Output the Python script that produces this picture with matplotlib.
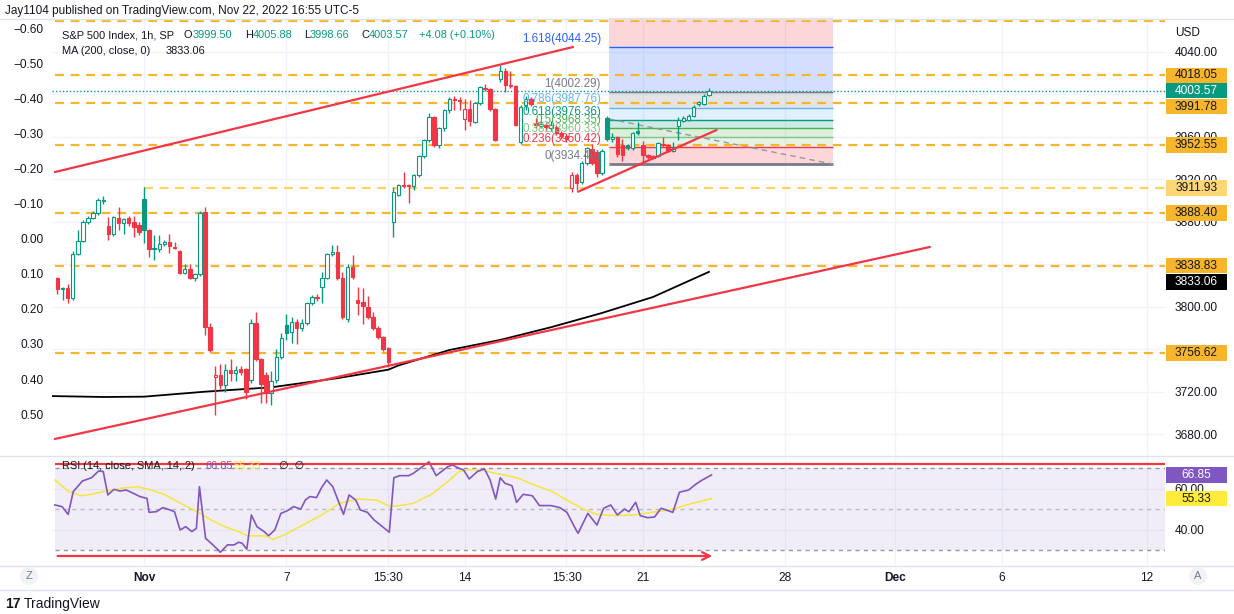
import numpy as np
import matplotlib
matplotlib.use('Agg')
import matplotlib.pyplot as plt
from matplotlib.patches import Rectangle, Ellipse
from matplotlib.lines import Line2D
from matplotlib.transforms import blended_transform_factory

plt.rcParams['font.family'] = ['Liberation Sans', 'DejaVu Sans']

GREEN = '#089981'
RED = '#f23645'
ORANGE = '#f7b52c'
TEXT = '#131722'
GRID = '#f0f3fa'
BORDER = '#e0e3eb'

# S&P 500, 1h bars. index 0 = first bar of Nov 1 2022
bar_start = -17
opens = [3827.5, 3816.7, 3818.0, 3808.0, 3850.0, 3862.4, 3880.0, 3884.0, 3888.0, 3899.5,
         3876.0, 3868.4, 3883.8, 3879.0, 3883.8, 3880.0, 3877.0,
         3901.6, 3872.5, 3854.3, 3855.0, 3859.3, 3861.0, 3856.7,
         3853.0, 3832.3, 3835.5, 3827.0, 3830.8, 3889.0, 3781.0,
         3734.4, 3736.0, 3727.0, 3740.7, 3738.0, 3741.5, 3741.4,
         3731.3, 3785.0, 3750.8, 3736.0, 3719.3, 3731.3, 3753.0,
         3783.0, 3776.8, 3786.0, 3780.0, 3784.6, 3803.5, 3809.7,
         3819.0, 3827.6, 3849.6, 3852.0, 3827.0, 3788.4, 3837.4,
         3806.6, 3805.0, 3799.7, 3791.0, 3780.0, 3771.5, 3761.0,
         3880.0, 3905.4, 3915.0, 3915.0, 3914.0, 3924.0, 3942.0,
         3957.0, 3978.5, 3952.5, 3968.0, 3985.0, 3996.0, 3994.5,
         3976.6, 3986.0, 3974.4, 3991.7, 4006.0, 4004.9, 3986.0,
         4015.0, 4022.4, 4009.0, 4008.0, 3955.6, 3990.0, 3996.0,
         3973.0, 3970.0, 3971.0, 3968.0, 3969.7, 3964.0, 3961.0,
         3911.7, 3924.0, 3918.0, 3935.5, 3949.0, 3946.0, 3926.0,
         3977.6, 3957.8, 3959.7, 3952.5, 3952.0, 3949.4, 3965.5,
         3952.5, 3943.0, 3942.0, 3942.0, 3953.5, 3952.5, 3947.0,
         3970.4, 3975.4, 3976.0, 3979.8, 3990.8, 3990.8, 3999.5]
highs = [3828.5, 3819.0, 3822.0, 3852.7, 3872.0, 3882.0, 3885.6, 3890.0, 3903.0, 3904.0,
         3884.7, 3886.0, 3894.0, 3884.0, 3885.6, 3885.6, 3880.0,
         3912.6, 3873.0, 3867.8, 3867.8, 3863.0, 3868.5, 3861.5,
         3854.0, 3840.0, 3840.0, 3832.0, 3890.0, 3894.0, 3785.0,
         3744.0, 3746.0, 3746.0, 3751.5, 3744.0, 3744.0, 3743.0,
         3789.0, 3795.6, 3752.0, 3739.0, 3740.0, 3760.0, 3775.5,
         3793.0, 3791.0, 3789.0, 3789.0, 3805.0, 3811.3, 3812.0,
         3833.0, 3851.0, 3858.4, 3858.0, 3833.0, 3840.0, 3849.0,
         3818.5, 3818.0, 3810.0, 3795.0, 3782.0, 3773.0, 3762.0,
         3913.0, 3916.0, 3927.0, 3916.0, 3925.0, 3943.0, 3958.0,
         3982.9, 3980.0, 3969.0, 3986.0, 3998.0, 3999.0, 3998.0,
         3995.5, 3995.0, 3993.0, 4008.0, 4010.0, 4006.0, 3987.0,
         4028.0, 4025.0, 4022.0, 4009.0, 3990.0, 3999.0, 3998.0,
         3978.0, 3975.0, 3973.0, 3975.0, 3971.0, 3966.0, 3963.0,
         3927.0, 3926.0, 3937.0, 3951.0, 3953.0, 3948.0, 3948.5,
         3980.0, 3963.5, 3961.0, 3958.0, 3953.0, 3965.0, 3974.4,
         3956.0, 3944.0, 3943.0, 3955.0, 3959.7, 3953.0, 3955.6,
         3978.5, 3980.0, 3982.0, 3990.0, 3994.0, 4000.0, 4005.88]
lows = [3812.0, 3807.0, 3804.0, 3807.0, 3849.0, 3861.0, 3878.0, 3883.0, 3887.0, 3897.0,
        3863.0, 3867.0, 3872.0, 3868.7, 3876.0, 3866.0, 3868.0,
        3860.5, 3847.0, 3844.0, 3852.0, 3857.0, 3851.0, 3855.0,
        3831.0, 3831.0, 3826.0, 3824.5, 3829.0, 3773.6, 3758.0,
        3698.4, 3723.0, 3720.0, 3730.0, 3730.0, 3736.0, 3713.0,
        3728.0, 3749.0, 3709.6, 3709.6, 3708.0, 3728.0, 3751.0,
        3769.0, 3766.0, 3765.0, 3777.0, 3783.0, 3801.8, 3806.0,
        3803.7, 3826.0, 3848.0, 3825.0, 3789.0, 3786.0, 3826.0,
        3792.5, 3784.0, 3789.0, 3778.0, 3770.0, 3759.0, 3743.8,
        3866.0, 3904.0, 3912.0, 3898.0, 3910.0, 3922.0, 3940.0,
        3955.0, 3951.0, 3949.4, 3966.0, 3983.0, 3985.4, 3985.0,
        3966.6, 3970.0, 3973.0, 3990.0, 4003.0, 3984.0, 3956.0,
        4012.0, 4002.6, 4006.0, 3970.0, 3953.6, 3985.0, 3989.0,
        3968.0, 3968.0, 3966.0, 3966.0, 3962.0, 3958.0, 3955.0,
        3908.5, 3910.0, 3916.0, 3934.0, 3934.0, 3922.0, 3924.0,
        3956.0, 3955.0, 3941.0, 3937.0, 3948.0, 3948.0, 3962.0,
        3936.7, 3939.0, 3939.0, 3941.0, 3951.0, 3946.0, 3946.0,
        3957.0, 3974.0, 3975.0, 3979.0, 3989.0, 3990.0, 3998.66]
closes = [3816.7, 3818.0, 3808.0, 3850.0, 3862.4, 3880.0, 3883.5, 3888.0, 3900.7, 3900.7,
          3868.4, 3884.4, 3879.0, 3882.8, 3879.0, 3875.0, 3871.0,
          3872.5, 3854.3, 3855.3, 3859.0, 3861.0, 3857.8, 3855.8,
          3832.3, 3835.5, 3827.0, 3831.0, 3888.8, 3781.5, 3759.5,
          3736.0, 3727.0, 3740.7, 3738.0, 3740.7, 3739.0, 3720.3,
          3785.0, 3750.8, 3727.3, 3719.3, 3730.5, 3753.0, 3770.5,
          3775.8, 3786.0, 3780.0, 3784.6, 3803.5, 3809.7, 3808.0,
          3827.6, 3849.6, 3852.0, 3827.0, 3790.3, 3837.4, 3828.0,
          3803.5, 3801.0, 3790.9, 3780.0, 3771.5, 3760.2, 3748.5,
          3908.0, 3914.8, 3914.0, 3913.5, 3924.0, 3942.0, 3957.0,
          3978.5, 3952.5, 3968.0, 3985.0, 3996.0, 3995.0, 3993.5,
          3986.0, 3975.4, 3992.0, 4006.7, 4005.0, 3986.0, 3957.2,
          4022.0, 4009.0, 4008.0, 3971.3, 3988.5, 3996.0, 3991.0,
          3971.3, 3972.0, 3969.0, 3971.0, 3964.0, 3961.0, 3958.0,
          3924.0, 3917.0, 3935.5, 3949.4, 3935.8, 3925.8, 3947.0,
          3957.8, 3960.0, 3944.0, 3943.5, 3950.0, 3963.5, 3964.0,
          3943.0, 3941.0, 3940.5, 3954.0, 3952.5, 3947.0, 3950.9,
          3976.0, 3978.0, 3979.8, 3988.5, 3992.5, 3999.0, 4003.57]

# MA(200)
ma_pos = [-18.5, -8, 0, 12, 25, 38, 48, 50, 60, 70, 80, 90, 100, 111]
ma_val = [3716.2, 3715.3, 3715.6, 3720.3, 3724.4, 3733.0, 3741.0, 3745.0,
          3759.5, 3769.0, 3781.0, 3794.4, 3809.4, 3833.06]

# RSI(14) and its SMA(14)
rsi_pos = [-17.5, -16.1, -14.9, -13.9, -12.1, -10.3, -8.9, -8.0, -7.1, -5.9,
           -4.7, -3.5, -2.1, -0.8, 0.6, 1.0, 2.4, 3.7, 5.1, 6.0,
           7.1, 8.2, 9.4, 10.3, 10.9, 12.1, 13.2, 14.6, 15.0, 16.4,
           17.7, 18.6, 19.3, 20.2, 21.1, 22.2, 23.6, 24.5, 25.7, 26.9,
           28.1, 29.4, 30.8, 31.7, 32.6, 33.9, 34.9, 35.9, 37.1, 39.2,
           40.3, 41.6, 42.5, 43.9, 45.2, 46.6, 48.2, 49.1, 50.2, 52.0,
           52.9, 56.0, 57.4, 59.7, 60.6, 61.9, 62.8, 63.9, 65.5, 66.9,
           68.0, 69.1, 70.0, 70.9, 72.3, 73.2, 74.5, 76.3, 77.7, 80.0,
           81.7, 83.1, 84.9, 85.3, 87.2, 89.0, 90.3, 91.7, 93.0, 94.4,
           95.3, 96.6, 97.5, 98.9, 100.3, 101.6, 103.9, 105.2, 107.0, 108.4,
           109.7, 111.5]
rsi_val = [52.2, 51.4, 47.6, 58.7, 63.9, 65.5, 68.8, 68.5, 57.1, 59.8,
           59.0, 59.5, 57.9, 56.3, 55.4, 48.6, 48.9, 50.9, 49.8, 48.9,
           40.0, 41.6, 39.2, 40.8, 61.1, 35.9, 33.5, 30.2, 29.1, 32.7,
           32.7, 34.0, 33.5, 30.6, 47.3, 41.6, 39.2, 37.2, 40.0, 48.1,
           49.3, 51.4, 50.2, 54.6, 56.3, 55.8, 60.7, 64.4, 61.1, 47.6,
           57.1, 54.6, 49.8, 48.6, 44.9, 42.1, 38.9, 65.5, 66.5, 66.5,
           67.6, 73.3, 66.5, 70.9, 71.7, 70.1, 69.3, 64.9, 68.5, 69.8,
           64.4, 55.1, 65.5, 62.8, 61.6, 53.5, 57.4, 56.7, 51.9, 51.9,
           50.9, 48.6, 40.0, 38.4, 48.1, 42.4, 50.6, 52.2, 47.3, 50.2,
           48.9, 53.5, 47.0, 46.0, 46.3, 50.6, 48.6, 58.4, 59.5, 62.3,
           64.4, 66.85]
sma_pos = [-17.5, -14.8, -12.2, -10.3, -7.6, -4.8, -1.2, 1.5, 4.2, 7.8,
           10.5, 13.2, 15.9, 18.6, 20.4, 24.0, 25.4, 27.6, 31.2, 34.9,
           38.4, 42.1, 45.7, 48.4, 51.1, 52.9, 56.5, 59.7, 61.9, 63.7,
           66.4, 69.1, 70.9, 73.6, 76.3, 80.0, 83.1, 86.3, 89.0, 92.6,
           96.2, 99.8, 103.4, 107.0, 111.5]
sma_val = [64.4, 58.7, 56.7, 57.4, 59.0, 60.3, 61.1, 59.5, 57.1, 52.2,
           48.9, 44.9, 41.6, 39.2, 37.1, 37.1, 35.4, 37.6, 42.4, 47.3,
           53.0, 55.1, 54.6, 51.4, 52.2, 53.0, 57.4, 63.6, 68.5, 69.3,
           69.3, 67.6, 66.8, 65.2, 62.3, 59.0, 54.6, 50.2, 47.6, 47.0,
           47.3, 48.6, 49.8, 52.5, 55.33]

# horizontal levels (dashed) and where each one starts
levels = [4069.5, 4018.05, 3991.78, 3952.55, 3911.93, 3888.40, 3838.83, 3756.62]
level_start = [-17.5, -17.5, -17.5, -17.5, 0, -17.5, -17.5, -17.5]
level_labels = [None, '4018.05', '3991.78', '3952.55', '3911.93', '3888.40', '3838.83', '3756.62']

# drawn trend lines (x in bars, y in price)
upper_line = ([-17.5, 84.3], [3927.0, 4044.7])
lower_line = ([-17.5, 154.4], [3675.8, 3856.5])
wedge_line = ([85.3, 112.5], [3908.5, 3966.6])

# fib retracement
fib_lo, fib_hi = 3934.40, 4002.29
fib_x = (91.4, 135.4)
fib_levels = [0, 0.236, 0.382, 0.5, 0.618, 0.786, 1, 1.618, 2.618]
fib_colors = ['#787b86', RED, '#81c784', '#4caf50', GREEN, '#64b5f6', '#787b86', '#2962ff', RED]
fib_diag = ([91.4, 135.4], [3977.0, 3934.4])

last_price = 4003.57
ma_last = 3833.06
rsi_last, sma_last = 66.85, 55.33

tick_pos = [0, 28, 48, 63, 83, 98, 126, 147.5, 168.5, 197]
tick_lab = ['Nov', '7', '15:30', '14', '15:30', '21', '28', 'Dec', '6', '12']
left_ticks = [-0.6, -0.5, -0.4, -0.3, -0.2, -0.1, 0.0, 0.1, 0.2, 0.3, 0.4, 0.5]
price_ticks = [3680, 3720, 3800, 3880, 3920, 3960, 4040]

W, H = 1234, 614


def fx(px):
    return px / W


def fy(py):
    return 1 - py / H


fig = plt.figure(figsize=(W / 100, H / 100), dpi=100)
L, R = 52, 1165
ax = fig.add_axes([fx(L), fy(455), (R - L) / W, (455 - 18) / H])
ax_rsi = fig.add_axes([fx(L), fy(565), (R - L) / W, (565 - 456) / H])
XL = (-18.07, 200.6)

# left percent scale (made first so that the price scale stays on the right)
ax_l = ax.twinx()
ax_l.set_ylim(0.617, -0.631)
ax_l.yaxis.set_ticks_position('left')
ax_l.yaxis.set_label_position('left')
ax_l.set_yticks(left_ticks)
ax_l.set_yticklabels([('%.2f' % v).replace('-', '\u2212') for v in left_ticks])
ax_l.tick_params(axis='y', length=0, pad=6, labelsize=8.6, labelcolor=TEXT)
for s in ax_l.spines.values():
    s.set_visible(False)

# ---- main pane ----
for p in range(3680, 4080, 40):
    ax.axhline(p, color=GRID, lw=1, zorder=0)
for t in tick_pos:
    ax.axvline(t, color=GRID, lw=1, zorder=0)
    ax_rsi.axvline(t, color=GRID, lw=1, zorder=0)

# fib zones: each band takes the colour of its upper level
fib_prices = [fib_lo + lv * (fib_hi - fib_lo) for lv in fib_levels]
for k in range(len(fib_levels) - 1):
    ax.fill_between(fib_x, fib_prices[k], fib_prices[k + 1], color=fib_colors[k + 1],
                    alpha=0.2, lw=0, zorder=1)
for k, lv in enumerate(fib_levels[:-1]):
    ax.hlines(fib_prices[k], fib_x[0], fib_x[1], colors=fib_colors[k],
              lw=2 if lv == 0 else 1, zorder=1.5)
    ax.annotate('%g(%.2f)' % (lv, fib_prices[k]), xy=(89.8, fib_prices[k]),
                xytext=(0, 1.5), textcoords='offset points', ha='right', va='bottom',
                fontsize=8.4, color=fib_colors[k], zorder=7)
ax.plot(fib_diag[0], fib_diag[1], color='#9598a1', lw=1, ls=(0, (4, 3)), zorder=1.6)

# dashed levels
for lv, st in zip(levels, level_start):
    c = '#fcd35e' if lv == 3911.93 else ORANGE
    ax.hlines(lv, st, XL[1], colors=c, lw=1.6, linestyles=(0, (4, 3)), zorder=3)
ax.hlines(last_price, XL[0], XL[1], colors=GREEN, lw=1, linestyles=(0, (1, 1.5)), zorder=3)

# MA
ax.plot(ma_pos, ma_val, color='#000000', lw=1.3, zorder=3.5)

# candles (hollow when close > open, green when close >= previous close)
bars = np.arange(bar_start, bar_start + len(opens))
o, h, l, c = (np.array(v) for v in (opens, highs, lows, closes))
prev = np.concatenate([[o[0]], c[:-1]])
col = [GREEN if cc >= pc else RED for cc, pc in zip(c, prev)]
face = ['white' if cc > oo else cl for cc, oo, cl in zip(c, o, col)]
ax.vlines(bars, l, h, colors=col, lw=1, zorder=4)
ax.bar(bars, np.maximum(np.abs(c - o), 0.7), bottom=np.minimum(o, c), width=0.68,
       color=face, edgecolor=col, linewidth=0.8, zorder=4.5)

# trend lines
for xs, ys in (upper_line, lower_line, wedge_line):
    ax.plot(xs, ys, color=RED, lw=1.6, zorder=5, solid_capstyle='round')

ax.set_xlim(*XL)
ax.set_ylim(3660.7, 4072.0)
ax.yaxis.tick_right()
ax.set_yticks(price_ticks)
ax.set_yticklabels(['%.2f' % p for p in price_ticks])
ax.tick_params(axis='y', length=0, pad=7, labelsize=8.6, labelcolor=TEXT)
ax.tick_params(axis='x', length=0, labelbottom=False)
for s in ax.spines.values():
    s.set_visible(False)

# ---- RSI pane ----
ax_rsi.fill_between([-17.5, XL[1]], 30, 70, color='#7e57c2', alpha=0.1, lw=0, zorder=0.5)
for lv, a in ((70, 1), (50, 0.6), (30, 1)):
    ax_rsi.hlines(lv, -17.5, XL[1], colors='#9598a1', lw=1, alpha=a,
                  linestyles=(0, (3, 3)), zorder=1)
for p in (40, 60):
    ax_rsi.axhline(p, color=GRID, lw=1, zorder=0.4)
ax_rsi.plot(sma_pos, sma_val, color='#f5e63f', lw=1.1, zorder=2)
ax_rsi.plot(rsi_pos, rsi_val, color='#7e57c2', lw=1.2, zorder=3)
ax_rsi.hlines(72.2, -17.5, XL[1], colors=RED, lw=1.6, zorder=4)
ax_rsi.annotate('', xy=(112.2, 27.3), xytext=(-17.5, 27.3),
                arrowprops=dict(arrowstyle='->', color=RED, lw=1.6, mutation_scale=14),
                zorder=4)
ax_rsi.set_xlim(*XL)
ax_rsi.set_ylim(22.9, 76.1)
ax_rsi.yaxis.tick_right()
ax_rsi.set_yticks([40, 60])
ax_rsi.set_yticklabels(['40.00', '60.00'])
ax_rsi.tick_params(axis='y', length=0, pad=7, labelsize=8.6, labelcolor=TEXT)
ax_rsi.set_xticks(tick_pos)
ax_rsi.set_xticklabels(tick_lab)
ax_rsi.tick_params(axis='x', length=0, pad=5, labelsize=8.6, labelcolor=TEXT)
for tl in ax_rsi.get_xticklabels():
    if tl.get_text() in ('Nov', 'Dec'):
        tl.set_fontweight('bold')
for s in ax_rsi.spines.values():
    s.set_visible(False)

# ---- right scale boxes ----
trp = blended_transform_factory(fig.transFigure, ax.transData)
trr = blended_transform_factory(fig.transFigure, ax_rsi.transData)


def box(tr, y, txt, fc, tc, hh):
    fig.add_artist(Rectangle((fx(1166), y - hh / 2), 61 / W, hh, transform=tr,
                             facecolor=fc, edgecolor='none', zorder=5))
    fig.text(fx(1196.5), y, txt, transform=tr, ha='center', va='center',
             fontsize=8.6, color=tc, zorder=6)


for lv, lab in zip(levels, level_labels):
    if lab is None:
        continue
    fc = '#fdd675' if lv == 3911.93 else ORANGE
    yb = lv - 3.2 if lv == 3991.78 else lv
    box(trp, yb, lab, fc, TEXT, 14.5)
box(trp, last_price, '%.2f' % last_price, GREEN, 'white', 14.5)
box(trp, ma_last - 9.5, '%.2f' % ma_last, '#000000', 'white', 14.5)
box(trr, rsi_last, '%.2f' % rsi_last, '#7e57c2', 'white', 7.6)
box(trr, sma_last, '%.2f' % sma_last, '#ffeb3b', TEXT, 7.6)
fig.text(fx(1175), fy(33), 'USD', ha='left', va='center', fontsize=8.6, color=TEXT)

# ---- frame lines ----
for yy in (18.5, 455.5, 565.5, 589.5):
    fig.add_artist(Line2D([0, 1], [fy(yy), fy(yy)], color=BORDER, lw=1, zorder=0.5))

# ---- header texts ----
fig.text(fx(5), fy(11), 'Jay1104 published on TradingView.com, Nov 22, 2022 16:55 UTC-5',
         ha='left', va='center', fontsize=8.45, color=TEXT)
legend = [(62, 'S&P 500 Index, 1h, SP', TEXT), (184, 'O', TEXT), (193, '3999.50', GREEN),
          (245, 'H', TEXT), (253, '4005.88', GREEN), (304, 'L', TEXT), (310, '3998.66', GREEN),
          (361, 'C', TEXT), (369, '4003.57', GREEN), (419, '+4.08 (+0.10%)', GREEN)]
for px, t, cl in legend:
    fig.text(fx(px), fy(35), t, ha='left', va='center', fontsize=7.9, color=cl)
fig.text(fx(62), fy(51), 'MA (200, close, 0)', ha='left', va='center', fontsize=7.9, color=TEXT)
fig.text(fx(166), fy(51), '%.2f' % ma_last, ha='left', va='center', fontsize=7.9, color=TEXT)
fig.text(fx(62), fy(466), 'RSI (14, close, SMA, 14, 2)', ha='left', va='center',
         fontsize=7.9, color=TEXT)
fig.text(fx(205), fy(466), '%.2f' % rsi_last, ha='left', va='center', fontsize=7.9, color='#7e57c2')
fig.text(fx(234), fy(466), '%.2f' % sma_last, ha='left', va='center', fontsize=7.9, color='#f5e63f')
fig.text(fx(279), fy(466), '\u2205  \u2205', ha='left', va='center', fontsize=7.9, color=TEXT)

# ---- bottom bar ----
for px, t in ((29, 'Z'), (1198, 'A')):
    fig.add_artist(Ellipse((fx(px), fy(576)), 18 / W, 18 / H, facecolor='#f0f3fa',
                           edgecolor='none', zorder=1))
    fig.text(fx(px), fy(576), t, ha='center', va='center', fontsize=8, color='#787b86', zorder=2)
fig.text(fx(5), fy(604), '17', ha='left', va='center', fontsize=10, fontweight='bold', color=TEXT)
fig.text(fx(24), fy(604), 'TradingView', ha='left', va='center', fontsize=10, color=TEXT)

fig.savefig('out.png', dpi=100, facecolor='white')
